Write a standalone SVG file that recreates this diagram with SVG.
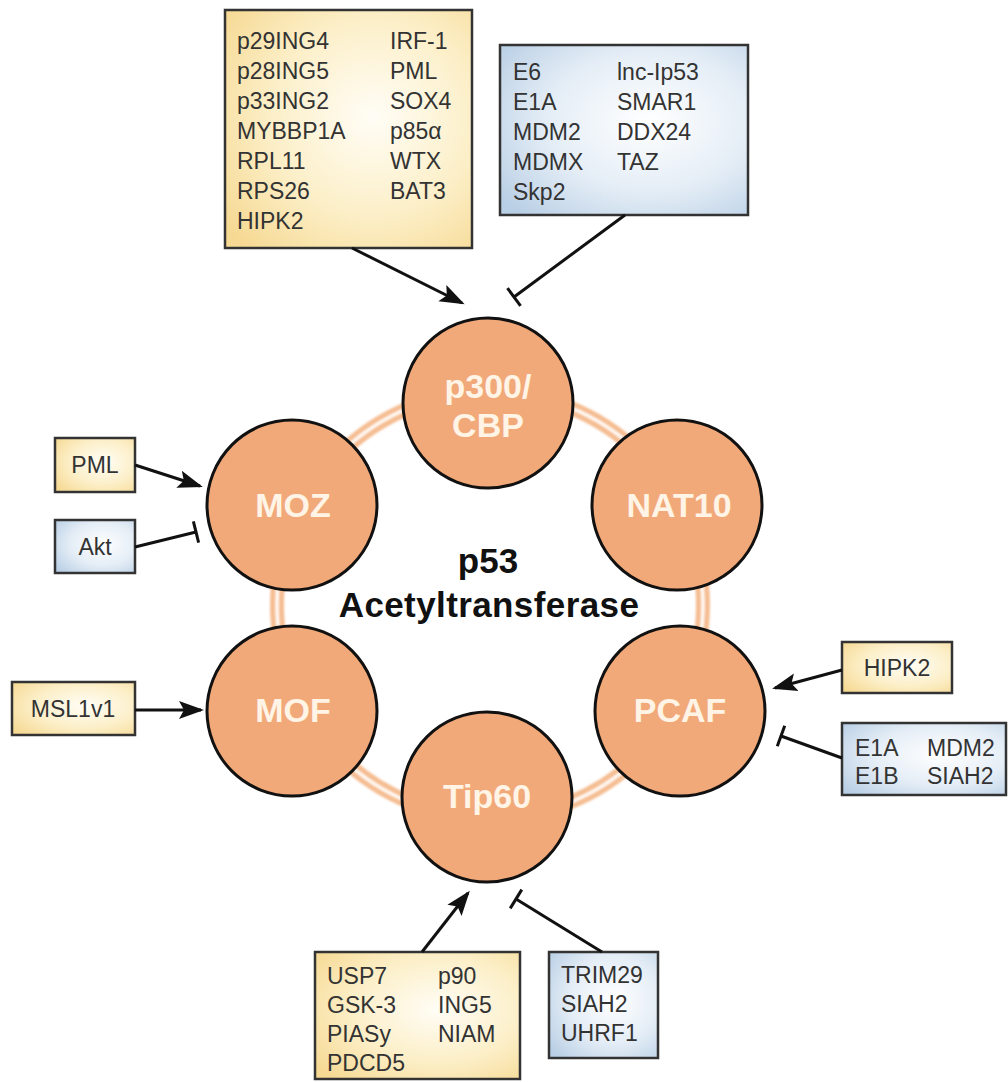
<svg xmlns="http://www.w3.org/2000/svg" width="1008" height="1082" viewBox="0 0 1008 1082">
  <defs>
    <radialGradient id="gradYellow" cx="0.6" cy="0.45" r="0.75">
      <stop offset="0" stop-color="#fffdf6"/>
      <stop offset="0.55" stop-color="#fcefc8"/>
      <stop offset="1" stop-color="#f6d993"/>
    </radialGradient>
    <radialGradient id="gradBlue" cx="0.6" cy="0.45" r="0.75">
      <stop offset="0" stop-color="#ffffff"/>
      <stop offset="0.55" stop-color="#e4edf6"/>
      <stop offset="1" stop-color="#b9cfe5"/>
    </radialGradient>
    <filter id="soft" x="-10%" y="-10%" width="120%" height="120%">
      <feGaussianBlur stdDeviation="1.1"/>
    </filter>
    <marker id="arrow" markerUnits="userSpaceOnUse" markerWidth="26" markerHeight="22" viewBox="0 0 26 22" refX="22" refY="11" orient="auto">
      <path d="M0,2 L25,11 L0,20 L5,11 z" fill="#111"/>
    </marker>
    <marker id="tbar" markerUnits="userSpaceOnUse" markerWidth="6" markerHeight="24" viewBox="0 0 6 24" refX="3" refY="12" orient="auto">
      <path d="M3,1 L3,23" stroke="#111" stroke-width="3"/>
    </marker>
    <style>
      .hat { fill: #f2a979; stroke: #111; stroke-width: 3; }
      .hatLabel { font-family: "Liberation Sans", Arial, sans-serif; font-weight: bold; font-size: 34px; fill: #fff4e6; text-anchor: middle; }
      .title { font-family: "Liberation Sans", Arial, sans-serif; font-weight: bold; font-size: 35px; fill: #111; text-anchor: middle; }
      .boxY { fill: url(#gradYellow); stroke: #333; stroke-width: 2.5; }
      .boxB { fill: url(#gradBlue); stroke: #333; stroke-width: 2.5; }
      .lbl { font-family: "Liberation Sans", Arial, sans-serif; font-size: 23px; fill: #333; }
      .mid { text-anchor: middle; }
      .act { stroke: #111; stroke-width: 3; fill: none; marker-end: url(#arrow); }
      .inh { stroke: #111; stroke-width: 3; fill: none; marker-end: url(#tbar); }
    </style>
  </defs>

  <rect width="1008" height="1082" fill="#ffffff"/>

  <!-- ring linking the acetyltransferases -->
  <g id="ring" filter="url(#soft)">
    <circle cx="490" cy="605" r="213" fill="none" stroke="#f5bd92" stroke-width="14"/>
    <circle cx="490" cy="605" r="213" fill="none" stroke="#fffaf4" stroke-width="3.5"/>
  </g>

  <!-- acetyltransferases -->
  <g id="p300">
    <circle class="hat" cx="488" cy="403" r="85"/>
    <text class="hatLabel" x="488" y="398">p300/</text>
    <text class="hatLabel" x="488" y="437">CBP</text>
  </g>
  <g id="NAT10">
    <circle class="hat" cx="677" cy="505" r="85"/>
    <text class="hatLabel" x="679" y="517">NAT10</text>
  </g>
  <g id="MOZ">
    <circle class="hat" cx="292" cy="505" r="85"/>
    <text class="hatLabel" x="293" y="517">MOZ</text>
  </g>
  <g id="MOF">
    <circle class="hat" cx="292" cy="711" r="85"/>
    <text class="hatLabel" x="293" y="722">MOF</text>
  </g>
  <g id="PCAF">
    <circle class="hat" cx="680" cy="711" r="85"/>
    <text class="hatLabel" x="680" y="722">PCAF</text>
  </g>
  <g id="Tip60">
    <circle class="hat" cx="487" cy="797" r="85"/>
    <text class="hatLabel" x="487" y="808">Tip60</text>
  </g>

  <g id="center-title">
    <text class="title" x="488" y="573">p53</text>
    <text class="title" x="489" y="617" font-size="37" letter-spacing="0.4">Acetyltransferase</text>
  </g>

  <!-- regulators -->
  <g id="p300-activators">
    <rect class="boxY" x="225" y="10" width="247" height="238"/>
    <text class="lbl" x="237" y="49">p29ING4</text>
    <text class="lbl" x="237" y="79">p28ING5</text>
    <text class="lbl" x="237" y="109">p33ING2</text>
    <text class="lbl" x="237" y="139">MYBBP1A</text>
    <text class="lbl" x="237" y="169">RPL11</text>
    <text class="lbl" x="237" y="199">RPS26</text>
    <text class="lbl" x="237" y="229">HIPK2</text>
    <text class="lbl" x="390" y="49">IRF-1</text>
    <text class="lbl" x="390" y="79">PML</text>
    <text class="lbl" x="390" y="109">SOX4</text>
    <text class="lbl" x="390" y="139">p85α</text>
    <text class="lbl" x="390" y="169">WTX</text>
    <text class="lbl" x="390" y="199">BAT3</text>
  </g>
  <g id="p300-inhibitors">
    <rect class="boxB" x="500" y="45" width="248" height="170"/>
    <text class="lbl" x="513" y="80">E6</text>
    <text class="lbl" x="513" y="110">E1A</text>
    <text class="lbl" x="513" y="140">MDM2</text>
    <text class="lbl" x="513" y="170">MDMX</text>
    <text class="lbl" x="513" y="200">Skp2</text>
    <text class="lbl" x="617" y="80">lnc-Ip53</text>
    <text class="lbl" x="617" y="110">SMAR1</text>
    <text class="lbl" x="617" y="140">DDX24</text>
    <text class="lbl" x="617" y="170">TAZ</text>
  </g>
  <g id="MOZ-PML">
    <rect class="boxY" x="55" y="438" width="80" height="54"/>
    <text class="lbl mid" x="95" y="473">PML</text>
  </g>
  <g id="MOZ-Akt">
    <rect class="boxB" x="55" y="520" width="80" height="53"/>
    <text class="lbl mid" x="95" y="555">Akt</text>
  </g>
  <g id="MOF-MSL1v1">
    <rect class="boxY" x="12" y="682" width="123" height="53"/>
    <text class="lbl mid" x="73" y="717">MSL1v1</text>
  </g>
  <g id="PCAF-HIPK2">
    <rect class="boxY" x="842" y="642" width="110" height="51"/>
    <text class="lbl mid" x="897" y="676">HIPK2</text>
  </g>
  <g id="PCAF-inhibitors">
    <rect class="boxB" x="842" y="723" width="164" height="72"/>
    <text class="lbl" x="855" y="756">E1A</text>
    <text class="lbl" x="855" y="784">E1B</text>
    <text class="lbl" x="927" y="756">MDM2</text>
    <text class="lbl" x="927" y="784">SIAH2</text>
  </g>
  <g id="Tip60-activators">
    <rect class="boxY" x="315" y="952" width="205" height="127"/>
    <text class="lbl" x="327" y="984">USP7</text>
    <text class="lbl" x="327" y="1013">GSK-3</text>
    <text class="lbl" x="327" y="1042">PIASy</text>
    <text class="lbl" x="327" y="1071">PDCD5</text>
    <text class="lbl" x="438" y="984">p90</text>
    <text class="lbl" x="438" y="1013">ING5</text>
    <text class="lbl" x="438" y="1042">NIAM</text>
  </g>
  <g id="Tip60-inhibitors">
    <rect class="boxB" x="549" y="952" width="109" height="106"/>
    <text class="lbl" x="561" y="983">TRIM29</text>
    <text class="lbl" x="561" y="1012">SIAH2</text>
    <text class="lbl" x="561" y="1041">UHRF1</text>
  </g>

  <!-- connectors: arrows activate, bars inhibit -->
  <g id="connectors">
    <line class="act" x1="352" y1="248" x2="462" y2="303"/>
    <line class="inh" x1="625" y1="215" x2="514" y2="297"/>
    <line class="act" x1="135" y1="465" x2="200" y2="486"/>
    <line class="inh" x1="135" y1="547" x2="196" y2="532"/>
    <line class="act" x1="135" y1="710" x2="201" y2="710"/>
    <line class="act" x1="842" y1="670" x2="775" y2="688"/>
    <line class="inh" x1="842" y1="758" x2="781" y2="736"/>
    <line class="act" x1="422" y1="952" x2="468" y2="893"/>
    <line class="inh" x1="602" y1="952" x2="516" y2="899"/>
  </g>
</svg>
